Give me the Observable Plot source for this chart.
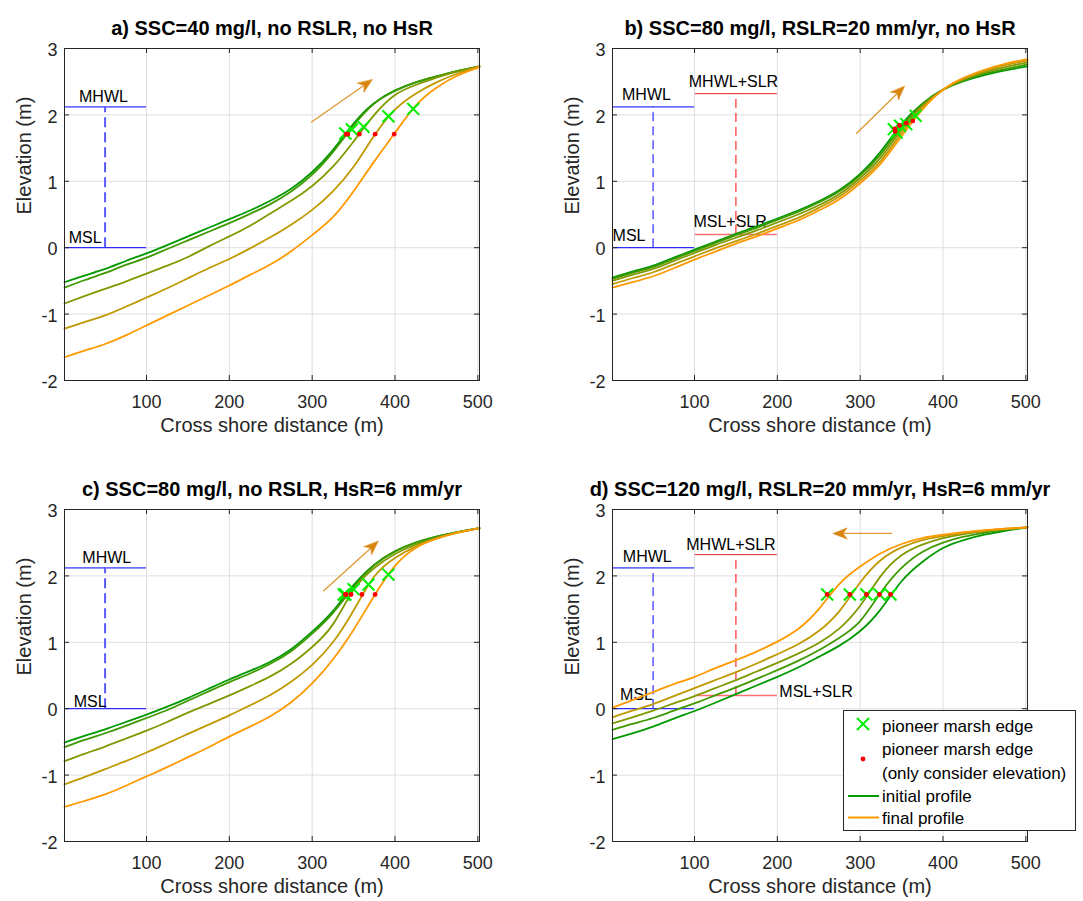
<!DOCTYPE html>
<html><head><meta charset="utf-8">
<script src="https://cdn.jsdelivr.net/npm/d3@7"></script>
<script src="https://cdn.jsdelivr.net/npm/@observablehq/plot@0.6"></script>
<style>
body{margin:0;background:#fff;font-family:"Liberation Sans",Arial,Helvetica,sans-serif;}
#root{position:relative;width:1083px;height:901px;background:#fff;overflow:hidden;}
.panel{position:absolute;}
#legend{position:absolute;left:843px;top:710px;}
</style></head><body><div id="root"></div>
<script>
// ---------- data ----------
const X = [1, 25, 50, 75, 100, 125, 150, 175, 200, 225, 250, 275, 300, 325, 350, 375, 400, 425, 450, 475, 502];
const xTicks = [100, 200, 300, 400, 500];
const yTicks = [-2, -1, 0, 1, 2, 3];
const profileColors = ["#009900", "#409900", "#809900", "#bf9900", "#ff9900"];

// panel a
const a1 = [-0.52,-0.42,-0.32,-0.20,-0.085,0.04,0.17,0.30,0.43,0.56,0.71,0.89,1.14,1.47,1.87,2.18,2.37,2.49,2.58,2.66,2.73];
const a2 = [-0.60,-0.49,-0.38,-0.26,-0.15,-0.02,0.11,0.24,0.37,0.51,0.66,0.85,1.10,1.44,1.84,2.17,2.36,2.49,2.58,2.66,2.73];
const a3 = [-0.84,-0.73,-0.62,-0.51,-0.39,-0.27,-0.14,0.02,0.17,0.33,0.52,0.71,0.93,1.22,1.60,2.00,2.30,2.45,2.56,2.65,2.73];
const a4 = [-1.22,-1.12,-1.02,-0.89,-0.75,-0.61,-0.46,-0.31,-0.17,-0.01,0.16,0.35,0.57,0.85,1.22,1.69,2.08,2.32,2.49,2.62,2.73];
const a5 = [-1.65,-1.55,-1.45,-1.32,-1.17,-1.02,-0.87,-0.72,-0.57,-0.41,-0.25,-0.05,0.19,0.46,0.85,1.30,1.73,2.14,2.41,2.59,2.72];
const aEdgeX = [340, 348, 362, 392, 422];
const aEdgeY = [1.72, 1.78, 1.82, 1.98, 2.09];
const aElevX = [341, 343, 357, 376, 399];
const aElevY = [1.71, 1.71, 1.71, 1.71, 1.71];
const aArrow = [298.8, 1.89, 372.5, 2.53];

// panel b
const b1 = [-0.45,-0.36,-0.27,-0.15,-0.03,0.09,0.21,0.32,0.44,0.56,0.70,0.87,1.11,1.45,1.86,2.17,2.38,2.51,2.60,2.67,2.73];
const b2 = [-0.47,-0.38,-0.29,-0.17,-0.05,0.07,0.19,0.30,0.42,0.54,0.68,0.85,1.09,1.41,1.82,2.16,2.38,2.52,2.62,2.69,2.76];
const b3 = [-0.50,-0.41,-0.32,-0.20,-0.08,0.04,0.15,0.26,0.38,0.50,0.64,0.81,1.05,1.36,1.78,2.14,2.38,2.53,2.64,2.72,2.79];
const b4 = [-0.55,-0.46,-0.37,-0.25,-0.13,-0.01,0.10,0.21,0.33,0.45,0.60,0.77,1.01,1.31,1.73,2.11,2.38,2.55,2.66,2.75,2.82];
const b5 = [-0.60,-0.52,-0.43,-0.31,-0.18,-0.06,0.06,0.17,0.29,0.41,0.56,0.73,0.97,1.27,1.68,2.08,2.38,2.56,2.68,2.77,2.84];
const bEdgeX = [340.6, 343.9, 348.1, 355.6, 366.9];
const bEdgeY = [1.785, 1.735, 1.836, 1.861, 1.986];
const bElevX = [341.8, 342.3, 347.5, 355.6, 363.5];
const bElevY = [1.79, 1.75, 1.84, 1.875, 1.91];
const bArrow = [295.2, 1.715, 353.5, 2.43];

// panel c
const c1 = [-0.51,-0.41,-0.31,-0.20,-0.09,0.03,0.16,0.30,0.44,0.57,0.71,0.90,1.16,1.47,1.86,2.17,2.37,2.50,2.59,2.66,2.72];
const c2 = [-0.58,-0.47,-0.37,-0.26,-0.14,-0.02,0.12,0.26,0.40,0.53,0.68,0.87,1.13,1.44,1.83,2.16,2.37,2.50,2.59,2.66,2.72];
const c3 = [-0.79,-0.68,-0.57,-0.45,-0.33,-0.20,-0.06,0.07,0.20,0.34,0.49,0.68,0.93,1.27,1.79,2.12,2.33,2.47,2.57,2.65,2.72];
const c4 = [-1.14,-1.03,-0.91,-0.79,-0.66,-0.52,-0.38,-0.24,-0.10,0.05,0.21,0.41,0.66,1.00,1.48,1.99,2.27,2.44,2.56,2.65,2.72];
const c5 = [-1.48,-1.39,-1.29,-1.16,-1.02,-0.88,-0.73,-0.58,-0.42,-0.27,-0.11,0.10,0.38,0.74,1.19,1.70,2.15,2.42,2.56,2.65,2.72];
const cEdgeX = [338, 340, 350, 368, 392];
const cEdgeY = [1.72, 1.72, 1.80, 1.87, 2.02];
const cElevX = [340, 341, 347, 360, 376];
const cElevY = [1.72, 1.72, 1.72, 1.72, 1.72];
const cArrow = [313.3, 1.77, 379.7, 2.52];

// panel d
const d1 = [-0.46,-0.37,-0.27,-0.15,-0.035,0.09,0.22,0.35,0.48,0.62,0.78,0.95,1.17,1.50,1.92,2.21,2.42,2.54,2.62,2.68,2.73];
const d2 = [-0.32,-0.23,-0.14,-0.03,0.08,0.20,0.32,0.45,0.58,0.72,0.88,1.07,1.32,1.75,2.12,2.36,2.50,2.59,2.65,2.70,2.73];
const d3 = [-0.22,-0.13,-0.03,0.08,0.19,0.31,0.43,0.56,0.69,0.83,0.99,1.21,1.55,2.00,2.31,2.47,2.57,2.63,2.67,2.70,2.73];
const d4 = [-0.13,-0.03,0.07,0.19,0.31,0.43,0.55,0.68,0.82,0.97,1.17,1.47,1.90,2.24,2.43,2.54,2.60,2.65,2.68,2.71,2.73];
const d5 = [0.015,0.13,0.25,0.37,0.48,0.61,0.73,0.86,1.01,1.20,1.50,1.88,2.14,2.34,2.48,2.57,2.62,2.66,2.69,2.71,2.73];
const dEdgeX = [336.6, 323.3, 307.6, 287.5, 260.2];
const dEdgeY = [1.72, 1.72, 1.72, 1.72, 1.72];
const dElevX = [336.6, 323.3, 307.6, 287.5, 260.2];
const dElevY = [1.72, 1.72, 1.72, 1.72, 1.72];
const dArrow = [338.7, 2.64, 267.4, 2.64];

// reference levels
const MHWL = 2.12, MSL = 0, SLR = 0.2;
const refSpan = [1, 100];
const slrSpan = [101, 200];
const refDashX = 50, slrDashX = 150;

// annotation labels
const aLabels = ["MHWL", "MSL"], aLabelX = [48, 26], aLabelY = [2.19, 0.065];
const bLabels = ["MHWL", "MSL", "MHWL+SLR", "MSL+SLR"], bLabelX = [42, 21, 147, 143], bLabelY = [2.22, 0.105, 2.42, 0.31];
const cLabels = ["MHWL", "MSL"], cLabelX = [52, 32], cLabelY = [2.2, 0.03];
const dLabels = ["MHWL", "MSL", "MHWL+SLR"], dLabelX = [43, 30, 144], dLabelY = [2.21, 0.13, 2.39];
const dSideLabel = ["MSL+SLR"], dSideX = [202.4], dSideY = [0.257];

const titles = [
  "a) SSC=40 mg/l, no RSLR, no HsR",
  "b) SSC=80 mg/l, RSLR=20 mm/yr, no HsR",
  "c) SSC=80 mg/l, no RSLR, HsR=6 mm/yr",
  "d) SSC=120 mg/l, RSLR=20 mm/yr, HsR=6 mm/yr"
];
const xLabel = "Cross shore distance (m)";
const yLabel = "Elevation (m)";
const legendLabels = ["pioneer marsh edge", "pioneer marsh edge", "(only consider elevation)", "initial profile", "final profile"];

// ---------- drawing ----------
const X_MIN = 1, X_MAX = 502, Y_MIN = -2, Y_MAX = 3;
const FONT = "'Liberation Sans', Arial, Helvetica, sans-serif";
const INK = "#262626";
const ARROW = "#d9850f";

const panels = [
  {title: titles[0], left: 0, top: 0, ml: 64, mr: 62, mt: 48, mb: 70, prof: [a1,a2,a3,a4,a5], ex: aEdgeX, ey: aEdgeY, rx: aElevX, ry: aElevY, arrow: aArrow, slr: false, lab: [aLabels, aLabelX, aLabelY]},
  {title: titles[1], left: 541, top: 0, ml: 71, mr: 55, mt: 48, mb: 70, prof: [b1,b2,b3,b4,b5], ex: bEdgeX, ey: bEdgeY, rx: bElevX, ry: bElevY, arrow: bArrow, slr: true, lab: [bLabels, bLabelX, bLabelY]},
  {title: titles[2], left: 0, top: 450, ml: 64, mr: 62, mt: 59, mb: 59, prof: [c1,c2,c3,c4,c5], ex: cEdgeX, ey: cEdgeY, rx: cElevX, ry: cElevY, arrow: cArrow, slr: false, lab: [cLabels, cLabelX, cLabelY]},
  {title: titles[3], left: 541, top: 450, ml: 71, mr: 55, mt: 59, mb: 59, prof: [d1,d2,d3,d4,d5], ex: dEdgeX, ey: dEdgeY, rx: dElevX, ry: dElevY, arrow: dArrow, slr: true, lab: [dLabels, dLabelX, dLabelY], side: true}
];

function makePanel(p) {
  const W = 541, H = 450;
  const kx = (W - p.ml - p.mr) / (X_MAX - X_MIN);
  const ky = (H - p.mt - p.mb) / (Y_MAX - Y_MIN);
  const t = 5;
  const marks = [];
  marks.push(Plot.gridX(xTicks, {stroke: "#dedede", strokeOpacity: 1}));
  marks.push(Plot.gridY(yTicks, {stroke: "#dedede", strokeOpacity: 1}));

  // reference levels
  marks.push(Plot.ruleY([MHWL, MSL], {x1: refSpan[0], x2: refSpan[1], stroke: "#0000ff", strokeWidth: 1}));
  if (p.slr) {
    marks.push(Plot.ruleX([refDashX], {y1: MSL, y2: MHWL, stroke: "#0000ff", strokeWidth: 1, strokeDasharray: "9,5"}));
    marks.push(Plot.ruleY([MHWL + SLR], {x1: slrSpan[0], x2: slrSpan[1], stroke: "#e8211f", strokeWidth: 1}));
    marks.push(Plot.ruleY([MSL + SLR], {x1: slrSpan[0], x2: slrSpan[1], stroke: "#ff6f6f", strokeWidth: 1.5}));
    marks.push(Plot.ruleX([slrDashX], {y1: MSL + SLR, y2: MHWL + SLR, stroke: "#ff0000", strokeWidth: 1, strokeDasharray: "9,5"}));
  } else {
    marks.push(Plot.ruleX([refDashX], {y1: MSL, y2: MHWL, stroke: "#5a5aff", strokeWidth: 2, strokeDasharray: "10,5"}));
  }
  const [lt, lx, ly] = p.lab;
  marks.push(Plot.text(lt.map((s, i) => ({s, x: lx[i], y: ly[i]})), {x: "x", y: "y", text: "s", lineAnchor: "bottom", textAnchor: "middle", fontSize: 16, fill: "#000"}));
  if (p.side) {
    marks.push(Plot.text(dSideLabel.map((s, i) => ({s, x: dSideX[i], y: dSideY[i]})), {x: "x", y: "y", text: "s", lineAnchor: "middle", textAnchor: "start", fontSize: 16, fill: "#000"}));
  }

  // profiles
  p.prof.forEach((arr, k) => {
    marks.push(Plot.line(X.map((x, i) => [x, arr[i]]), {x: d => d[0], y: d => d[1], stroke: profileColors[k], strokeWidth: 1.8, curve: "natural"}));
  });

  // arrow (shaft + filled head computed from arrow endpoints in screen geometry)
  const [x1, y1, x2, y2] = p.arrow;
  const dxp = (x2 - x1) * kx, dyp = -(y2 - y1) * ky;
  const len = Math.hypot(dxp, dyp), ux = dxp / len, uy = dyp / len, nx = -uy, ny = ux;
  const L = 14, Wd = 5.5;
  const offs = [[0, 0], [-L * ux + Wd * nx, -L * uy + Wd * ny], [-0.7 * L * ux, -0.7 * L * uy], [-L * ux - Wd * nx, -L * uy - Wd * ny]];
  const head = offs.map(([ox, oy]) => [x2 + ox / kx, y2 - oy / ky]);
  marks.push(Plot.link([p.arrow], {x1: d => d[0], y1: d => d[1], x2: head[2][0], y2: head[2][1], stroke: ARROW, strokeWidth: 1.3, strokeOpacity: 0.85}));
  marks.push(Plot.line(head, {x: d => d[0], y: d => d[1], fill: ARROW, stroke: ARROW, strokeWidth: 0.6, curve: "linear-closed"}));

  // edges
  marks.push(Plot.dot(p.ex.map((x, i) => [x, p.ey[i]]), {x: d => d[0], y: d => d[1], symbol: "times", r: 5.5, stroke: "#00ee00", strokeWidth: 2}));
  marks.push(Plot.dot(p.rx.map((x, i) => [x, p.ry[i]]), {x: d => d[0], y: d => d[1], r: 2.4, fill: "#ff0000", stroke: "none"}));

  // frame, inward ticks, axes
  marks.push(Plot.frame({stroke: INK, strokeWidth: 1}));
  marks.push(Plot.ruleX(xTicks, {x: d => d, y1: Y_MIN, y2: Y_MIN + t / ky, stroke: INK}));
  marks.push(Plot.ruleX(xTicks, {x: d => d, y1: Y_MAX - t / ky, y2: Y_MAX, stroke: INK}));
  marks.push(Plot.ruleY(yTicks, {y: d => d, x1: X_MIN, x2: X_MIN + t / kx, stroke: INK}));
  marks.push(Plot.ruleY(yTicks, {y: d => d, x1: X_MAX - t / kx, x2: X_MAX, stroke: INK}));
  marks.push(Plot.axisX({ticks: xTicks, tickSize: 0, tickPadding: 14.5, fontSize: 18, label: null, tickFormat: d => String(d)}));
  marks.push(Plot.axisY({ticks: yTicks, tickSize: 0, tickPadding: 7, fontSize: 18, label: null, dy: 2, tickFormat: d => String(d)}));

  // titles and axis labels
  marks.push(Plot.text([p.title], {frameAnchor: "top", dy: -28, fontSize: 20, fontWeight: "bold", fill: "#000"}));
  marks.push(Plot.text([xLabel], {frameAnchor: "bottom", dy: 51, fontSize: 20, fill: INK}));
  marks.push(Plot.text([yLabel], {frameAnchor: "left", dx: -39.5, rotate: -90, fontSize: 20, fill: INK}));

  const svg = Plot.plot({
    width: W, height: H,
    marginLeft: p.ml, marginRight: p.mr, marginTop: p.mt, marginBottom: p.mb,
    x: {domain: [X_MIN, X_MAX]},
    y: {domain: [Y_MIN, Y_MAX]},
    style: {fontFamily: FONT, color: INK, background: "transparent", overflow: "visible"},
    marks
  });
  svg.classList.add("panel");
  svg.style.left = p.left + "px";
  svg.style.top = p.top + "px";
  svg.style.position = "absolute";
  return svg;
}

const root = document.getElementById("root");
panels.forEach(p => root.appendChild(makePanel(p)));

// legend (panel d)
const ns = "http://www.w3.org/2000/svg";
const lg = document.createElementNS(ns, "svg");
lg.setAttribute("id", "legend");
lg.setAttribute("width", 235);
lg.setAttribute("height", 123);
lg.style.fontFamily = FONT;
function el(tag, attrs, text) {
  const e = document.createElementNS(ns, tag);
  for (const k in attrs) e.setAttribute(k, attrs[k]);
  if (text) e.textContent = text;
  lg.appendChild(e);
  return e;
}
el("rect", {x: 0.5, y: 0.5, width: 232, height: 120, fill: "#fff", stroke: INK, "stroke-width": 1});
el("path", {d: "M14,8L26,20M26,8L14,20", stroke: "#00ee00", "stroke-width": 2, fill: "none"});
el("circle", {cx: 20, cy: 49, r: 2.4, fill: "#ff0000"});
el("line", {x1: 5, x2: 36, y1: 86, y2: 86, stroke: profileColors[0], "stroke-width": 2});
el("line", {x1: 5, x2: 36, y1: 107.5, y2: 107.5, stroke: profileColors[4], "stroke-width": 2});
const baselines = [22, 45, 69, 92, 114];
legendLabels.forEach((s, i) => el("text", {x: 39, y: baselines[i], "font-size": 17, fill: "#000"}, s));
root.appendChild(lg);
</script></body></html>
